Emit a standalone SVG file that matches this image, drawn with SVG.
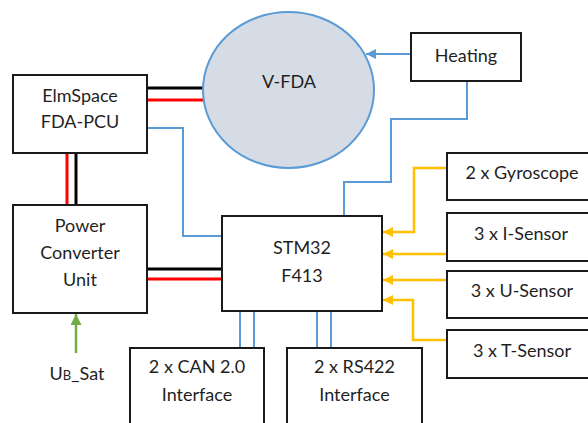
<svg xmlns="http://www.w3.org/2000/svg" width="588" height="423" viewBox="0 0 588 423">
<defs>
<style>
.box{fill:#fff;stroke:#1a1a1a;stroke-width:2}
.t{font-family:Lato,"Open Sans","Liberation Sans",sans-serif;font-size:18px;fill:#1f1f1f;text-anchor:middle}
.blk{stroke:#000;stroke-width:3;fill:none}
.red{stroke:#f00;stroke-width:3;fill:none}
.blu{stroke:#5b9bd5;stroke-width:2;fill:none}
.org{stroke:#ffc000;stroke-width:2.5;fill:none}
.grn{stroke:#70ad47;stroke-width:2.5;fill:none}
</style>
<marker id="ao" viewBox="0 0 10 10" refX="10" refY="5" markerWidth="10" markerHeight="10" markerUnits="userSpaceOnUse" orient="auto"><path d="M0,0 L10,5 L0,10 z" fill="#ffc000"/></marker>
<marker id="ab" viewBox="0 0 10 10" refX="10" refY="5" markerWidth="10" markerHeight="10" markerUnits="userSpaceOnUse" orient="auto"><path d="M0,0 L10,5 L0,10 z" fill="#5b9bd5"/></marker>
<marker id="ag" viewBox="0 0 10 10" refX="10" refY="5" markerWidth="11" markerHeight="11" markerUnits="userSpaceOnUse" orient="auto"><path d="M0,0 L10,5 L0,10 z" fill="#70ad47"/></marker>
</defs>
<rect width="588" height="423" fill="#fff"/>
<g id="connectors">
<path class="blk" d="M147,88 H205"/>
<path class="red" d="M147,100 H205"/>
<path class="red" d="M67,153 V205"/>
<path class="blk" d="M76,153 V205"/>
<path class="blk" d="M147,269 H222"/>
<path class="red" d="M147,279 H222"/>
<path class="blu" d="M147,128 H183 V236 H222"/>
<path class="blu" d="M411,54 H366" marker-end="url(#ab)"/>
<path class="blu" d="M467,81 V119 H391 V182 H344 V216"/>
<path class="blu" d="M240,311 V348 M254,311 V348"/>
<path class="blu" d="M317,311 V348 M331,311 V348"/>
<path class="org" d="M447,168 H414 V232 H383" marker-end="url(#ao)"/>
<path class="org" d="M447,254 H383" marker-end="url(#ao)"/>
<path class="org" d="M447,280 H383" marker-end="url(#ao)"/>
<path class="org" d="M447,340 H413 V300 H383" marker-end="url(#ao)"/>
<path class="grn" d="M76,353 V314" marker-end="url(#ag)"/>
</g>
<g id="vfda">
<ellipse cx="288.5" cy="90" rx="85.5" ry="78" fill="#d6dce5" stroke="#5b9bd5" stroke-width="2"/>
<text class="t" x="289" y="88">V-FDA</text>
</g>
<g id="elmspace">
<rect class="box" x="13" y="75" width="134" height="78"/>
<text class="t" x="80" y="102">ElmSpace</text>
<text class="t" x="80" y="128">FDA-PCU</text>
</g>
<g id="pcu">
<rect class="box" x="13" y="205" width="134" height="108"/>
<text class="t" x="80" y="232">Power</text>
<text class="t" x="80" y="259">Converter</text>
<text class="t" x="80" y="286">Unit</text>
</g>
<g id="stm32">
<rect class="box" x="222" y="216" width="160" height="95"/>
<text class="t" x="302" y="254">STM32</text>
<text class="t" x="302" y="282">F413</text>
</g>
<g id="heating">
<rect class="box" x="411" y="33" width="110" height="48"/>
<text class="t" x="466" y="62">Heating</text>
</g>
<g id="gyro">
<rect class="box" x="447" y="153" width="150" height="47"/>
<text class="t" x="522" y="179">2 x Gyroscope</text>
</g>
<g id="isensor">
<rect class="box" x="447" y="213" width="150" height="48"/>
<text class="t" x="521" y="240">3 x I-Sensor</text>
</g>
<g id="usensor">
<rect class="box" x="447" y="271" width="150" height="47"/>
<text class="t" x="522" y="297">3 x U-Sensor</text>
</g>
<g id="tsensor">
<rect class="box" x="447" y="330" width="150" height="48"/>
<text class="t" x="522" y="357">3 x T-Sensor</text>
</g>
<g id="can">
<rect class="box" x="130" y="348" width="134" height="90"/>
<text class="t" x="197" y="373">2 x CAN 2.0</text>
<text class="t" x="197" y="401">Interface</text>
</g>
<g id="rs422">
<rect class="box" x="287" y="348" width="135" height="90"/>
<text class="t" x="354.5" y="373">2 x RS422</text>
<text class="t" x="354.5" y="401">Interface</text>
</g>
<g id="ubsat">
<text class="t" x="77" y="380">U<tspan font-size="13">B</tspan>_Sat</text>
</g>
</svg>
